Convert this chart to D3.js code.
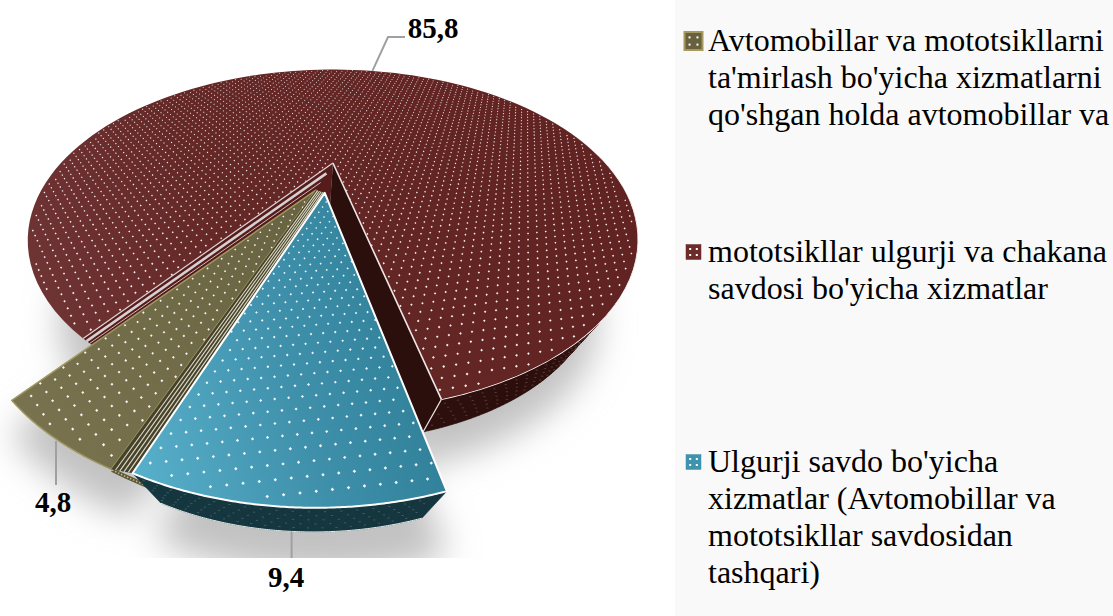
<!DOCTYPE html>
<html>
<head>
<meta charset="utf-8">
<style>
html,body{margin:0;padding:0;background:#fff;}
svg{display:block;}
text{font-family:"Liberation Serif","Times New Roman",serif;fill:#000;}
</style>
<script src="https://cdn.jsdelivr.net/npm/d3@7/dist/d3.min.js"></script>
</head>
<body>
<svg id="chart" width="1113" height="616"></svg>
<script>
const categories = ["Ulgurji savdo", "Avtomobillar", "Mototsikllar"];
const values = [9.4, 4.8, 85.8];
const valueLabels = ["9,4", "4,8", "85,8"];
const legendGroups = [
  ["Avtomobillar va mototsikllarni", "ta'mirlash bo'yicha xizmatlarni", "qo'shgan holda avtomobillar va"],
  ["mototsikllar ulgurji va chakana", "savdosi bo'yicha xizmatlar"],
  ["Ulgurji savdo bo'yicha", "xizmatlar (Avtomobillar va", "mototsikllar savdosidan", "tashqari)"]
];
const rad = d => d * Math.PI / 180;
const svg = d3.select("#chart");
const defs = svg.append("defs");

// plane -> screen: perspective view of the pie plane
const persp = 0.453;
const xS = d3.scaleLinear().domain([-1, 1]).range([334 - 272.5, 334 + 272.5]);
const yS = d3.scaleLinear().domain([-1, 1]).range([163 - 136, 163 + 136]);
const proj = (u, v) => { const w = 1 - persp * v; return [xS(u / w), yS(v / w)]; };
const vanish = [300, 650];
const drop = (p, t) => [p[0] + (vanish[0] - p[0]) * t, p[1] + (vanish[1] - p[1]) * t];

const pie = d3.pie().value(d => d).sort(null).startAngle(rad(166)).endAngle(rad(526));
const arcs = pie(values);
const cfg = [
  {o: [-0.031, 0.2], r: 0.98, pad: [0.5, 0], tilt: -6, depth: 0.17},
  {o: [-0.061, 0.183], r: 0.993, pad: [0.4, 0], tilt: -20, depth: 0.02},
  {o: [-0.004, 0], r: 0.998, pad: [-1.8, 1], tilt: -10, depth: 0.13}
];
const line = d3.line();
const rimPt = (i, a, r) => {
  const c = cfg[i], R = r === undefined ? c.r : r;
  return proj(c.o[0] + R * Math.sin(a), c.o[1] - R * Math.cos(a));
};
const range = i => [arcs[i].startAngle + rad(cfg[i].pad[0]), arcs[i].endAngle + rad(cfg[i].pad[1])];
const rim = (i, a0, a1) => d3.range(0, 121).map(k => rimPt(i, a0 + (a1 - a0) * k / 120));
const apex = i => proj(cfg[i].o[0], cfg[i].o[1]);
const sector = i => { const [a0, a1] = range(i); return [apex(i), ...rim(i, a0, a1)]; };

function dots(i) {
  const c = cfg[i], [a0, a1] = range(i), step = 0.0285, t = rad(c.tilt);
  let d = "", n = Math.ceil(1.1 / step);
  for (let row = -n; row <= n; row++) for (let col = -n; col <= n; col++) {
    const lu = (col + (row % 2 ? 0.5 : 0)) * step, lv = row * step * 0.95;
    const u = lu * Math.cos(t) - lv * Math.sin(t), v = lu * Math.sin(t) + lv * Math.cos(t);
    const r = Math.hypot(u, v);
    if (r > c.r - 0.012 || r < 0.01) continue;
    let a = Math.atan2(u, -v); if (a < 0) a += 2 * Math.PI;
    while (a < a0) a += 2 * Math.PI;
    if (a > a1 - 0.006 || a < a0 + 0.006) continue;
    const w = 1 - persp * (v + c.o[1]);
    const [x, y] = proj(u + c.o[0], v + c.o[1]), s = 0.85 / w;
    d += `M${(x - s).toFixed(1)},${y.toFixed(1)}L${x.toFixed(1)},${(y - s).toFixed(1)}L${(x + s).toFixed(1)},${y.toFixed(1)}L${x.toFixed(1)},${(y + s).toFixed(1)}Z`;
  }
  return d;
}
function wall(i, a0, a1, depth) {
  const top = rim(i, a0, a1);
  let d = "";
  for (let k = 0; k < top.length - 1; k++) {
    d += line([top[k], top[k + 1], drop(top[k + 1], depth), drop(top[k], depth)]) + "Z";
  }
  return d;
}
function wallDots(i, a0, a1, depth) {
  let d = "";
  const n = Math.round(Math.abs(a1 - a0) / rad(1.7));
  for (let k = 1; k < n; k++) for (let j = 1; j < 6; j++) {
    const a = a0 + (a1 - a0) * (k + (j % 2) / 2) / n;
    const p = drop(rimPt(i, a), depth * j / 6);
    d += `M${(p[0] - 1.1).toFixed(1)},${p[1].toFixed(1)}h2.2`;
  }
  return d;
}

// gradients
const grad = (id, x1, y1, x2, y2, stops) => {
  const g = defs.append("linearGradient").attr("id", id).attr("gradientUnits", "userSpaceOnUse")
    .attr("x1", x1).attr("y1", y1).attr("x2", x2).attr("y2", y2);
  stops.forEach(s => g.append("stop").attr("offset", s[0]).attr("stop-color", s[1]));
};
grad("gMaroon", 40, 400, 640, 200, [[0, "#703635"], [0.35, "#642827"], [1, "#612322"]]);
grad("gBlue", 134, 476, 447, 400, [[0, "#58b0ca"], [0.55, "#3f90ab"], [1, "#2f7f98"]]);
grad("gOlive", 12, 402, 316, 190, [[0, "#78724f"], [1, "#67623f"]]);
defs.append("filter").attr("id", "blur").attr("x", "-20%").attr("y", "-20%").attr("width", "140%").attr("height", "140%")
  .append("feGaussianBlur").attr("stdDeviation", 17);
defs.append("clipPath").attr("id", "shadowClip").append("rect").attr("x", 0).attr("y", 0).attr("width", 675).attr("height", 558);

// legend panel
svg.append("rect").attr("x", 675).attr("y", 0).attr("width", 438).attr("height", 616).attr("fill", "#f9f9f9");

// shadow
const shadow = svg.append("g").attr("clip-path", "url(#shadowClip)").append("g").attr("filter", "url(#blur)").attr("fill", "#c2c2c2").attr("stroke", "#c2c2c2").attr("stroke-linejoin", "round");
[2, 1, 0].forEach(i => {
  const pts = sector(i).map(p => drop(p, cfg[i].depth));
  shadow.append("path").attr("d", line(pts.map(p => [p[0] + (i === 2 ? 0 : 10), p[1] + 30])) + "Z")
    .attr("stroke-width", i === 2 ? 8 : 26);
});

// maroon: outer wall, inner cut faces, top
const [m0, m1] = range(2);
const mEndA = m1;
svg.append("path").attr("d", wall(2, rad(440), mEndA, cfg[2].depth)).attr("fill", "#2d0f0e").attr("stroke", "#2d0f0e").attr("stroke-width", 0.6);
svg.append("path").attr("d", wallDots(2, rad(450), mEndA, cfg[2].depth)).attr("stroke", "#8d6f6d").attr("stroke-width", 0.8).attr("fill", "none").attr("opacity", 0.55);
svg.append("path").attr("d", line(rim(2, rad(440), mEndA))).attr("fill", "none").attr("stroke", "#fff").attr("stroke-width", 1.4);
const apexM = apex(2), oApex = apex(1), bApex = apex(0);
// left cut band beside the maroon top, running down to the olive slice
const bandA = rad(213.3);
svg.append("path").attr("d", line([apexM, rimPt(2, m0), rimPt(2, bandA), oApex, bApex, drop(apexM, 0.1)]) + "Z").attr("fill", "#561c1b");
svg.append("path").attr("d", line(sector(2)) + "Z").attr("fill", "url(#gMaroon)");
svg.append("path").attr("d", dots(2)).attr("fill", "#fff").attr("opacity", 0.92);
// right cut wall
const mEnd = rimPt(2, mEndA);
svg.append("path").attr("d", line([apexM, mEnd, drop(mEnd, cfg[2].depth), drop(apexM, cfg[2].depth)]) + "Z").attr("fill", "#2a0f0d");
svg.append("path").attr("d", line([mEnd, drop(mEnd, cfg[2].depth)])).attr("stroke", "#e8e0df").attr("stroke-width", 1.2);
svg.append("path").attr("d", line([apexM, mEnd])).attr("stroke", "#efe6e6").attr("stroke-width", 1.6).attr("fill", "none");
// stripes on left cut
const bandTip = f => [apexM[0] + (oApex[0] - apexM[0]) * f, apexM[1] + (oApex[1] - apexM[1]) * f];
const bandEnd = f => { const p = rimPt(2, m0), q = rimPt(2, bandA); return [p[0] + (q[0] - p[0]) * f, p[1] + (q[1] - p[1]) * f]; };
[[0, 1.2, "#dcd3d2"], [0.38, 2.6, "#d6d0d0"], [0.72, 1, "#cdbcbc"]].forEach(s => {
  svg.append("path").attr("d", line([bandTip(s[0]), bandEnd(s[0])])).attr("stroke", s[2]).attr("stroke-width", s[1]).attr("fill", "none");
});

// olive
const [o0, o1] = range(1);
const oRimR = rimPt(1, o0), bEdge = rimPt(0, range(0)[1]);
const strip = d3.range(0, 9).map(k => drop(rimPt(1, o0 + rad(-6) * k / 8), 0.004 + 0.036 * k / 8));
svg.append("path").attr("d", line(strip)).attr("stroke", "#5d5734").attr("stroke-width", 4).attr("fill", "none");
svg.append("path").attr("d", line(strip)).attr("stroke", "#bdb78f").attr("stroke-width", 1.6).attr("stroke-dasharray", "1.5 1.8").attr("fill", "none");
svg.append("path").attr("d", line(sector(1)) + "Z").attr("fill", "url(#gOlive)").attr("stroke", "#9f9760").attr("stroke-width", 1.5).attr("stroke-linejoin", "round");
svg.append("path").attr("d", dots(1)).attr("fill", "#fff").attr("opacity", 0.92);
// striped inner band of the olive slice
svg.append("path").attr("d", line([oApex, oRimR, bEdge, bApex]) + "Z").attr("fill", "#45412a");
d3.range(1, 5).forEach(k => {
  const f = k / 5, L = (p, q) => [p[0] + (q[0] - p[0]) * f, p[1] + (q[1] - p[1]) * f];
  svg.append("path").attr("d", line([L(oApex, bApex), L(oRimR, bEdge)])).attr("stroke", "#dcd9c6").attr("stroke-width", 1.1).attr("fill", "none");
});

// blue
const [b0, b1] = range(0);
svg.append("path").attr("d", wall(0, b0, b1, cfg[0].depth)).attr("fill", "#16373f").attr("stroke", "#16373f").attr("stroke-width", 0.6);
svg.append("path").attr("d", wallDots(0, b0, b1, cfg[0].depth)).attr("stroke", "#7f9499").attr("stroke-width", 0.8).attr("opacity", 0.5).attr("fill", "none");
svg.append("path").attr("d", line(rim(0, b0, b1).map(p => drop(p, cfg[0].depth)))).attr("fill", "none").attr("stroke", "#e6eeee").attr("stroke-width", 1);
svg.append("path").attr("d", line(sector(0)) + "Z").attr("fill", "url(#gBlue)").attr("stroke", "#fff").attr("stroke-width", 2).attr("stroke-linejoin", "round");
svg.append("path").attr("d", dots(0)).attr("fill", "#fff").attr("opacity", 0.92);

// leader lines
const blueFoot = drop(rimPt(0, rad(182.6)), cfg[0].depth);
const leaderOf = [
  [blueFoot, [blueFoot[0], 558]],
  [[56, 441], [56, 485]],
  [rimPt(2, rad(372)), [388, 37], [405, 37]]
];
leaderOf.forEach(pts => svg.append("path").attr("d", line(pts)).attr("fill", "none").attr("stroke", "#a0a0a0").attr("stroke-width", 2));

// value labels
const labelX = [286, 53, 433], labelY = [587, 512, 38];
valueLabels.forEach((t, i) => svg.append("text").attr("x", labelX[i]).attr("y", labelY[i]).attr("text-anchor", "middle")
  .attr("font-size", 29).attr("font-weight", "bold").text(t));

// legend
const legendY = [51, 262, 472];
const swatchFill = ["#67613f", "#6d2b2a", "#3e93ae"];
const swatchStroke = ["#a59a5c", "#6d2b2a", "#3e93ae"];
const swatchSize = [18, 15, 15];
legendGroups.forEach((lines, i) => {
  const s = swatchSize[i], x = 693.5 - s / 2, y = legendY[i] - 10 - s / 2;
  svg.append("rect").attr("x", x).attr("y", y).attr("width", s).attr("height", s).attr("fill", swatchFill[i])
    .attr("stroke", swatchStroke[i]).attr("stroke-width", i === 0 ? 2 : 0.5);
  [[0.28, 0.3], [0.72, 0.3], [0.28, 0.7], [0.72, 0.7]].forEach(q =>
    svg.append("rect").attr("x", x + q[0] * s - 1).attr("y", y + q[1] * s - 1).attr("width", 2).attr("height", 2).attr("fill", "#fff"));
  lines.forEach((t, k) => svg.append("text").attr("x", 708).attr("y", legendY[i] + k * 37).attr("font-size", 32).text(t));
});
</script>
</body>
</html>
